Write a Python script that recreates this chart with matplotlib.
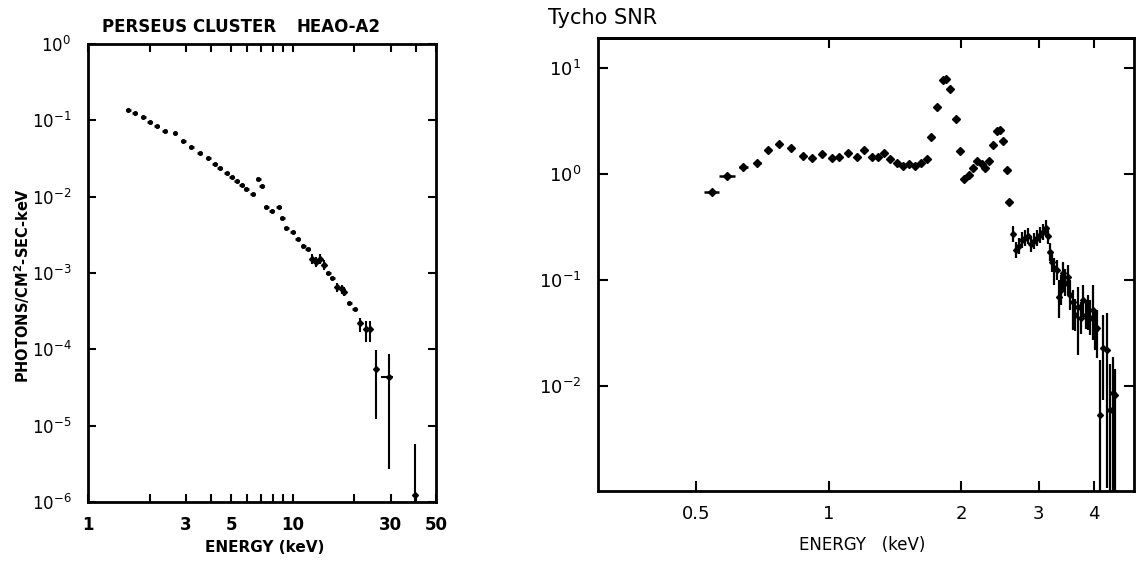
import matplotlib
matplotlib.use("Agg")
import matplotlib.pyplot as plt
from matplotlib.ticker import FixedLocator, NullFormatter, LogFormatterSciNotation
import numpy as np

# ---------------- Perseus cluster (HEAO-A2) ----------------
perseus_E = [1.573, 1.695, 1.861, 2.006, 2.163, 2.375, 2.66, 2.917, 3.20, 3.52,
             3.86, 4.165, 4.40, 4.75, 5.02, 5.31, 5.62, 5.94, 6.36, 6.77,
             7.06, 7.43, 7.90, 8.54, 8.89, 9.31, 10.0, 10.58, 11.22, 11.8,
             14.86, 15.55, 18.83, 20.06]
perseus_F = [0.135, 0.124, 0.109, 0.095, 0.0836, 0.072, 0.0684, 0.0534, 0.0446, 0.0376,
             0.0324, 0.0266, 0.024, 0.0207, 0.0182, 0.0161, 0.0143, 0.0125, 0.0110, 0.0169,
             0.0139, 0.00726, 0.00648, 0.00726, 0.00518, 0.00392, 0.00344, 0.00282, 0.00226, 0.00205,
             0.00101, 0.00087, 0.00041, 0.000338]

perseus_err_E = [12.34, 12.95, 13.5, 14.2, 16.45, 17.29, 17.8, 21.39, 22.7, 23.8, 25.6, 29.4, 39.4]
perseus_err_F = [0.00151, 0.00140, 0.00151, 0.00127, 0.00065, 0.00061, 0.00057,
                 0.000222, 0.000182, 0.000182, 5.6e-5, 4.37e-5, 1.24e-6]
perseus_err_lo = [0.00130, 0.00120, 0.00130, 0.00110, 0.00057, 0.00053, 0.00050,
                  0.000171, 0.000124, 0.000124, 1.23e-5, 2.7e-6, 8e-7]
perseus_err_hi = [0.00175, 0.00163, 0.00175, 0.00147, 0.00074, 0.00070, 0.00065,
                  0.000260, 0.000233, 0.000233, 9.7e-5, 8.6e-5, 5.8e-6]
perseus_err_Elo = [12.34, 12.95, 13.5, 14.2, 16.0, 16.9, 17.4, 21.39, 22.7, 23.8, 25.6, 27.0, 39.4]
perseus_err_Ehi = [12.34, 12.95, 13.5, 14.2, 16.9, 17.7, 18.2, 21.39, 22.7, 23.8, 25.6, 31.0, 39.4]

perseus_xticks = [1, 3, 5, 10, 30, 50]
perseus_xtick_labels = ["1", "3", "5", "10", "30", "50"]
perseus_yticks = [1e-6, 1e-5, 1e-4, 1e-3, 1e-2, 1e-1, 1]

# ---------------- Tycho SNR ----------------
tycho_E = [0.544, 0.589, 0.641, 0.690, 0.730, 0.774, 0.820, 0.873, 0.915, 0.964,
           1.016, 1.054, 1.105, 1.158, 1.201, 1.252, 1.292, 1.334, 1.376, 1.427,
           1.473, 1.520, 1.569, 1.619, 1.670, 1.705, 1.760, 1.816, 1.845, 1.884,
           1.944, 1.985, 2.027, 2.081, 2.125, 2.170, 2.227, 2.262, 2.310, 2.359,
           2.409, 2.447, 2.486, 2.539, 2.566]
tycho_F = [0.672, 0.943, 1.147, 1.27, 1.66, 1.92, 1.76, 1.48, 1.42, 1.54,
           1.42, 1.45, 1.58, 1.45, 1.68, 1.45, 1.45, 1.58, 1.36, 1.27,
           1.19, 1.22, 1.19, 1.27, 1.385, 2.23, 4.29, 7.7, 7.88, 6.34,
           3.30, 1.65, 0.897, 0.978, 1.14, 1.33, 1.22, 1.14, 1.33, 1.88,
           2.55, 2.60, 2.05, 1.09, 0.544]
tycho_dE = [0.021, 0.024, 0.014, 0.014, 0.012, 0.012, 0.012, 0.012, 0.012, 0.012,
            0.012, 0.012, 0.012, 0.012, 0.010, 0.010, 0.010, 0.010, 0.010, 0.010,
            0.010, 0.010, 0.010, 0.010, 0.008, 0.006, 0.006, 0.012, 0.012, 0.006,
            0.006, 0.006, 0.006, 0.006, 0.006, 0.006, 0.012, 0.006, 0.006, 0.006,
            0.012, 0.012, 0.006, 0.006, 0.006]

tycho_hi_E = [2.620, 2.661, 2.703, 2.746, 2.790, 2.833, 2.878, 2.924, 2.970, 3.017,
              3.064, 3.113, 3.146, 3.179, 3.213, 3.247, 3.297, 3.332, 3.367, 3.403,
              3.439, 3.493, 3.530, 3.585, 3.623, 3.681, 3.739, 3.778, 3.839, 3.879,
              3.920, 3.981, 4.023, 4.065, 4.130, 4.195, 4.283, 4.351, 4.420, 4.467]
tycho_hi_F = [0.272, 0.192, 0.209, 0.238, 0.249, 0.260, 0.219, 0.233, 0.249, 0.266,
              0.284, 0.310, 0.260, 0.184, 0.148, 0.130, 0.124, 0.069, 0.080, 0.116,
              0.094, 0.107, 0.072, 0.062, 0.0468, 0.0556, 0.0438, 0.0648, 0.0468, 0.0521,
              0.0438, 0.0521, 0.0338, 0.0353, 0.0053, 0.0228, 0.0219, 0.0059, 0.0086, 0.0082]
tycho_hi_lo = [0.228, 0.161, 0.176, 0.200, 0.209, 0.218, 0.184, 0.196, 0.209, 0.224,
               0.239, 0.260, 0.218, 0.150, 0.119, 0.0897, 0.100, 0.0438, 0.058, 0.080,
               0.070, 0.072, 0.052, 0.0338, 0.033, 0.0196, 0.031, 0.042, 0.034, 0.0338,
               0.030, 0.0272, 0.022, 0.0184, 0.0005, 0.0074, 0.0011, 0.0005, 0.0005, 0.0005]
tycho_hi_hi = [0.324, 0.229, 0.249, 0.283, 0.296, 0.309, 0.261, 0.277, 0.296, 0.317,
               0.338, 0.369, 0.309, 0.223, 0.183, 0.161, 0.154, 0.100, 0.110, 0.148,
               0.126, 0.139, 0.099, 0.080, 0.066, 0.086, 0.062, 0.090, 0.064, 0.072,
               0.064, 0.0897, 0.052, 0.0521, 0.0176, 0.0468, 0.0489, 0.016, 0.0188, 0.0145]

tycho_xticks = [0.5, 1, 2, 3, 4]
tycho_xtick_labels = ["0.5", "1", "2", "3", "4"]
tycho_yticks = [1e-2, 1e-1, 1, 10]

# ---------------- figure ----------------
W, H = 1136, 561
plt.rcParams['font.family'] = ['DejaVu Sans']
fig = plt.figure(figsize=(W / 100, H / 100), dpi=100)

def px_axes(x0, y0, x1, y1):
    return fig.add_axes([x0 / W, 1 - y1 / H, (x1 - x0) / W, (y1 - y0) / H])

DASH = 0.012  # half-width of the dash markers, in dex

# ---- left panel ----
ax1 = px_axes(88, 44, 436, 502)
ax1.set_xscale('log'); ax1.set_yscale('log')
ax1.set_xlim(1, 50); ax1.set_ylim(1e-6, 1)
pE = np.array(perseus_E); pF = np.array(perseus_F)
ax1.errorbar(pE, pF, xerr=[pE - pE * 10**(-DASH), pE * 10**DASH - pE],
             fmt='o', ms=2.6, color='black', elinewidth=1.8, capsize=0)
eE = np.array(perseus_err_E); eF = np.array(perseus_err_F)
ax1.errorbar(eE, eF,
             yerr=[eF - np.array(perseus_err_lo), np.array(perseus_err_hi) - eF],
             xerr=[eE - np.array(perseus_err_Elo), np.array(perseus_err_Ehi) - eE],
             fmt='D', ms=3, color='black', elinewidth=1.5, capsize=0, clip_on=True)
for s in ax1.spines.values():
    s.set_linewidth(2)
ax1.xaxis.set_major_locator(FixedLocator(perseus_xticks))
ax1.set_xticklabels(perseus_xtick_labels)
ax1.xaxis.set_minor_locator(FixedLocator([2, 4, 6, 7, 8, 9, 20, 40]))
ax1.xaxis.set_minor_formatter(NullFormatter())
ax1.yaxis.set_major_locator(FixedLocator(perseus_yticks))
ax1.yaxis.set_major_formatter(LogFormatterSciNotation())
ax1.yaxis.set_minor_locator(FixedLocator([]))
ax1.tick_params(axis='both', which='both', direction='in', top=True, right=True,
                width=1.5, length=6)
ax1.tick_params(axis='x', which='major', pad=10, labelsize=12)
ax1.tick_params(axis='y', which='major', pad=12, labelsize=12)
for lab in ax1.get_xticklabels():
    lab.set_fontweight('bold')
fig.text(102 / W, 1 - 27 / H, "PERSEUS CLUSTER", fontsize=12, fontweight='bold',
         ha='left', va='center')
fig.text(297 / W, 1 - 27 / H, "HEAO-A2", fontsize=12, fontweight='bold',
         ha='left', va='center')
fig.text(22 / W, 1 - 285 / H, "PHOTONS/CM$^\\mathbf{2}$-SEC-keV", fontsize=10.5,
         fontweight='bold', rotation=90, ha='center', va='center')
fig.text(265 / W, 1 - 548 / H, "ENERGY (keV)", fontsize=11, fontweight='bold',
         ha='center', va='center')

# ---- right panel ----
ax2 = px_axes(598, 38, 1134, 491)
ax2.set_xscale('log'); ax2.set_yscale('log')
ax2.set_xlim(0.30, 4.93); ax2.set_ylim(1.02e-3, 19)
tE = np.array(tycho_E); tF = np.array(tycho_F)
ax2.errorbar(tE, tF, xerr=np.array(tycho_dE), fmt='D', ms=3.6, color='black',
             elinewidth=1.8, capsize=0)
hE = np.array(tycho_hi_E); hF = np.array(tycho_hi_F)
ax2.errorbar(hE, hF, yerr=[hF - np.array(tycho_hi_lo), np.array(tycho_hi_hi) - hF],
             xerr=[hE - hE * 10**(-0.004), hE * 10**0.004 - hE],
             fmt='D', ms=3.0, color='black', elinewidth=1.6, capsize=0)
for s in ax2.spines.values():
    s.set_linewidth(2)
ax2.xaxis.set_major_locator(FixedLocator(tycho_xticks))
ax2.set_xticklabels(tycho_xtick_labels)
ax2.xaxis.set_minor_locator(FixedLocator([]))
ax2.yaxis.set_major_locator(FixedLocator(tycho_yticks))
ax2.yaxis.set_major_formatter(LogFormatterSciNotation())
ax2.yaxis.set_minor_locator(FixedLocator([]))
ax2.tick_params(axis='both', which='both', direction='in', right=True,
                width=1.5, length=7)
ax2.tick_params(axis='x', pad=10, labelsize=13)
ax2.tick_params(axis='y', pad=12, labelsize=13)
top = ax2.secondary_xaxis('top')
top.set_xticks([1, 2, 3, 4])
top.tick_params(direction='in', length=7, width=1.5, labeltop=False)
top.xaxis.set_minor_locator(FixedLocator([]))
top.spines['top'].set_linewidth(2)
fig.text(548 / W, 1 - 18 / H, "Tycho SNR", fontsize=15, ha='left', va='center')
fig.text(862 / W, 1 - 545 / H, "ENERGY   (keV)", fontsize=12, ha='center', va='center')

fig.savefig("out.png", dpi=100)
